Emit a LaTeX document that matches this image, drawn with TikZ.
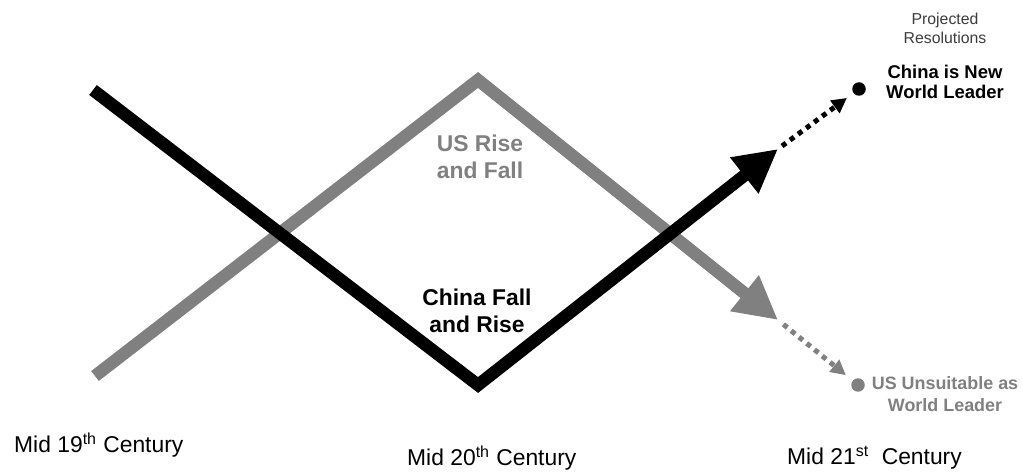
\documentclass[tikz,border=0pt]{standalone}
\usepackage{fontspec}
\setmainfont{Liberation Sans}
\usetikzlibrary{arrows.meta}
\definecolor{usgray}{RGB}{128,128,128}
\definecolor{notegray}{RGB}{60,60,60}

\begin{document}
\begin{tikzpicture}
[x=0.02cm,y=-0.02cm,
trend/.style={line width=0.25cm,line join=miter,-{Triangle[length=0.86cm,width=0.86cm]}},
hint/.style={line width=0.1cm,dash pattern=on 0.1cm off 0.1cm,-{Triangle[length=0.3cm,width=0.3cm]}},
endpoint/.style={circle,inner sep=0pt,minimum size=0.27cm},
heading/.style={font=\bfseries\fontsize{13}{15.6}\selectfont,align=center},
era/.style={anchor=west,font=\fontsize{13}{15}\selectfont}]
\useasboundingbox (0,0) rectangle (1023,472);
% turning points
\coordinate (cstart) at (93,90);
\coordinate (cbottom) at (478,385);
\coordinate (cend) at (778,149);
\coordinate (ustart) at (95,376);
\coordinate (utop) at (478,80);
\coordinate (uend) at (778,320);
% US
\draw[trend,usgray] (ustart) -- (utop) -- (uend);
% China
\draw[trend,black] (cstart) -- (cbottom) -- (cend);
\node[heading,text=usgray] (usrf) at (480,157) {US Rise\\and Fall};
\node[heading] (cfr) at (477,311) {China Fall\\and Rise};
% projections
\node[endpoint,fill=black] (lead) at (859,89) {};
\node[endpoint,fill=usgray] (unfit) at (858,385) {};
\draw[hint,black,shorten <=0.1cm,shorten >=0.16cm] (cend) -- (lead);
\draw[hint,usgray,shorten <=0.14cm,shorten >=0.17cm] (uend) -- (unfit);
\node[align=center,text=notegray,font=\fontsize{9}{10.8}\selectfont] (proj) at (945,28) {Projected\\Resolutions};
\node[heading,font=\bfseries\fontsize{10.5}{11.4}\selectfont] (newlead) at (945,82) {China is New\\World Leader};
\node[heading,text=usgray,font=\bfseries\fontsize{10.2}{12.4}\selectfont] (nolead) at (945,394) {US Unsuitable as\\World Leader};
% time axis
\node[era] (mid19) at (8,445) {Mid 19\textsuperscript{th} Century};
\node[era] (mid20) at (401,458) {Mid 20\textsuperscript{th} Century};
\node[era] (mid21) at (781,458) {Mid 21\textsuperscript{st}\ \ Century};
\end{tikzpicture}
\end{document}
